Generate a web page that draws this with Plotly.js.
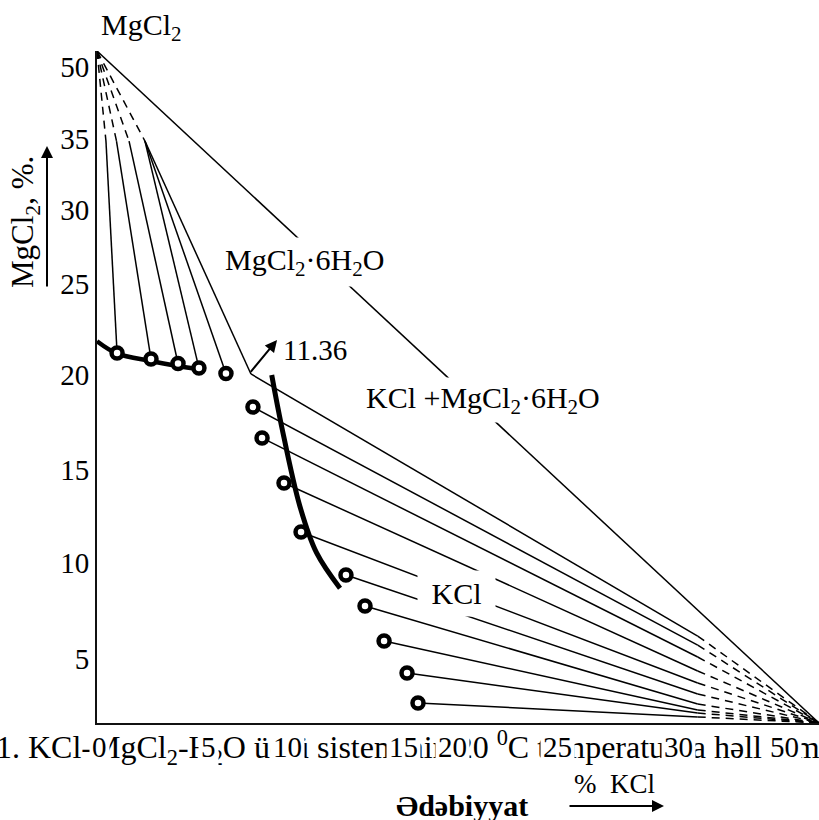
<!DOCTYPE html>
<html>
<head>
<meta charset="utf-8">
<script src="https://cdn.plot.ly/plotly-3.0.1.min.js"></script>
<style>html,body{margin:0;padding:0;background:#fff;}#chart{width:819px;height:820px;}</style>
</head>
<body>
<div id="chart"></div>
<script>
// ---- data (chart units: x = % KCl, y = % MgCl2, triangle legs 0..50) ----
const xTickVals = [0.2, 7.7, 13.2, 21.2, 24.6, 31.9, 40.3, 47.6];
const xTickText = ['0', '5', '10', '15', '20', '25', '30', '50'];
const yTickVals = [48.8, 43.5, 38.2, 32.7, 25.9, 18.8, 11.9, 4.76];
const yTickText = ['50', '35', '30', '25', '20', '15', '10', '5'];

const vertexMg = [0, 50];
const vertexK = [50, 0];

// MgCl2·6H2O branch
const hexTopX = [0.62, 1.35, 2.22, 3.32];
const hexTopY = [43.3, 43.3, 43.3, 43.3];
const hexPtX = [1.39, 3.74, 5.61, 7.06, 8.93];
const hexPtY = [27.53, 27.08, 26.75, 26.41, 26.0];
const hexTopIdx = [0, 1, 2, 3, 3];

// invariant point (KCl + MgCl2·6H2O)
const invX = [10.66];
const invY = [25.97];
const invTopIdx = [3];
const invLabel = ['11.36'];

// KCl branch
const kclPtX = [10.80, 11.43, 12.95, 14.13, 17.24, 18.56, 19.88, 21.47, 22.23];
const kclPtY = [23.51, 21.21, 17.86, 14.21, 11.01, 8.71, 6.10, 3.72, 1.49];
const kclTieEndX = [41.6];
const kclTieEndY = [6.47, 5.80, 4.91, 3.87, 2.98, 2.16, 1.41, 0.97, 0.74, 0.45]; // first = invariant line

// solubility curves (thick)
const curveHexX = [0, 1.36, 3.74, 5.61, 7.06];
const curveHexY = [28.4, 27.5, 26.93, 26.56, 26.32];
const curveKclX = [12.10, 12.79, 14.06, 15.21, 16.83];
const curveKclY = [25.89, 22.05, 16.09, 12.65, 10.02];

// ---- build segments ----
const solidX = [], solidY = [], dashX = [], dashY = [];
function seg(ax, ay, bx, by, X, Y) { X.push(ax, bx, null); Y.push(ay, by, null); }

seg(vertexMg[0], vertexMg[1], vertexK[0], vertexK[1], solidX, solidY);
hexTopX.forEach((x, i) => seg(vertexMg[0], vertexMg[1], x, hexTopY[i], dashX, dashY));
hexPtX.forEach((x, i) => seg(hexTopX[hexTopIdx[i]], hexTopY[hexTopIdx[i]], x, hexPtY[i], solidX, solidY));
seg(hexTopX[invTopIdx[0]], hexTopY[invTopIdx[0]], invX[0], invY[0], solidX, solidY);
const kStartX = invX.concat(kclPtX), kStartY = invY.concat(kclPtY);
kStartX.forEach((x, i) => {
  seg(x, kStartY[i], kclTieEndX[0], kclTieEndY[i], solidX, solidY);
  seg(kclTieEndX[0], kclTieEndY[i], vertexK[0], vertexK[1], dashX, dashY);
});

const serif = 'Liberation Serif, Times New Roman, serif';
const boldSerif = 'Times New Roman, Liberation Serif, DejaVu Serif, serif';

const traces = [
  {x: solidX, y: solidY, mode: 'lines', line: {color: '#000', width: 1.5}, hoverinfo: 'skip'},
  {x: dashX, y: dashY, mode: 'lines', line: {color: '#000', width: 1.5, dash: '8px,6px'}, hoverinfo: 'skip'},
  {x: curveHexX, y: curveHexY, mode: 'lines', line: {color: '#000', width: 4.5, shape: 'spline'}, hoverinfo: 'skip'},
  {x: curveKclX, y: curveKclY, mode: 'lines', line: {color: '#000', width: 5, shape: 'spline'}, hoverinfo: 'skip'},
  {x: hexPtX.concat(kclPtX), y: hexPtY.concat(kclPtY), mode: 'markers',
   marker: {symbol: 'circle', size: 11, color: '#fff', line: {color: '#000', width: 4.5}}, hoverinfo: 'skip'}
];

const W = 722, H = 672, L = 97, T = 51;
const px = v => (v - L) / W;
const py = v => (T + H - v) / H;
const C = {xanchor: 'center', yanchor: 'middle', showarrow: false};

const annotations = [
  Object.assign({xref: 'paper', yref: 'paper', x: px(141), y: py(27), text: 'MgCl<sub>2</sub>',
   font: {family: serif, size: 30, color: '#000'}}, C),
  Object.assign({xref: 'paper', yref: 'paper', x: px(25), y: py(222), text: 'MgCl<sub>2</sub>, %.', textangle: -90,
   font: {family: serif, size: 31, color: '#000'}}, C),
  {xref: 'paper', yref: 'paper', x: px(47), y: py(146), axref: 'pixel', ayref: 'pixel', ax: 0, ay: 142, text: '',
   showarrow: true, arrowhead: 2, arrowsize: 1.2, arrowwidth: 2, arrowcolor: '#000'},
  Object.assign({x: 14.4, y: 34.3, xref: 'x', yref: 'y', text: 'MgCl<sub>2</sub>·6H<sub>2</sub>O',
   bgcolor: '#fff', borderpad: 5, font: {family: serif, size: 30, color: '#000'}}, C),
  Object.assign({x: 26.7, y: 24.0, xref: 'x', yref: 'y', text: 'KCl +MgCl<sub>2</sub>·6H<sub>2</sub>O',
   bgcolor: '#fff', borderpad: 3, font: {family: serif, size: 30, color: '#000'}}, C),
  Object.assign({x: 24.9, y: 9.6, xref: 'x', yref: 'y', text: '&nbsp;KCl&nbsp;',
   bgcolor: '#fff', borderpad: 6, font: {family: serif, size: 30, color: '#000'}}, C),
  {x: 12.47, y: 28.5, xref: 'x', yref: 'y', axref: 'x', ayref: 'y', ax: invX[0] - 0.1, ay: invY[0] + 0.05, text: '',
   showarrow: true, arrowhead: 2, arrowsize: 1.2, arrowwidth: 2, arrowcolor: '#000'},
  Object.assign({x: 15.1, y: 27.75, xref: 'x', yref: 'y', text: invLabel[0],
   font: {family: serif, size: 29, color: '#000'}}, C),
  {xref: 'paper', yref: 'paper', x: px(-6), y: py(747), xanchor: 'left', yanchor: 'middle', showarrow: false,
   text: '1. KCl-MgCl<sub>2</sub>-H<sub>2</sub>O üçlü sisteminin 20 <sup>0</sup>C temperaturda həll olma diaqramı',
   font: {family: serif, size: 32, color: '#000'}},
  Object.assign({xref: 'paper', yref: 'paper', x: px(462), y: py(806), text: '<b>Ədəbiyyat</b>',
   font: {family: boldSerif, size: 30, color: '#000'}}, C),
  Object.assign({xref: 'paper', yref: 'paper', x: px(614), y: py(784), text: '%  KCl',
   font: {family: serif, size: 27, color: '#000'}}, C),
  {xref: 'paper', yref: 'paper', x: px(664), y: py(806), axref: 'pixel', ayref: 'pixel', ax: -96, ay: 0, text: '',
   showarrow: true, arrowhead: 2, arrowsize: 1.2, arrowwidth: 2, arrowcolor: '#000'}
];
xTickVals.forEach((v, i) => annotations.push(Object.assign({
  x: v, xref: 'x', yref: 'paper', y: py(747), text: xTickText[i],
  bgcolor: '#fff', borderpad: 2, font: {family: serif, size: 29, color: '#000'}
}, C)));

const layout = {
  width: 819, height: 820,
  margin: {l: 97, r: 0, t: 51, b: 97, pad: 0},
  paper_bgcolor: '#fff', plot_bgcolor: '#fff',
  showlegend: false,
  xaxis: {range: [0, 50], showgrid: false, zeroline: false, showline: true, linecolor: '#111', linewidth: 2,
          showticklabels: false, ticks: '', fixedrange: true},
  yaxis: {range: [0, 50], showgrid: false, zeroline: false, showline: true, linecolor: '#111', linewidth: 2,
          tickvals: yTickVals, ticktext: yTickText, ticks: '', ticklabelstandoff: 0,
          tickfont: {family: serif, size: 29, color: '#000'}, fixedrange: true},
  annotations: annotations
};

Plotly.newPlot('chart', traces, layout, {staticPlot: true, displayModeBar: false});
</script>
</body>
</html>
